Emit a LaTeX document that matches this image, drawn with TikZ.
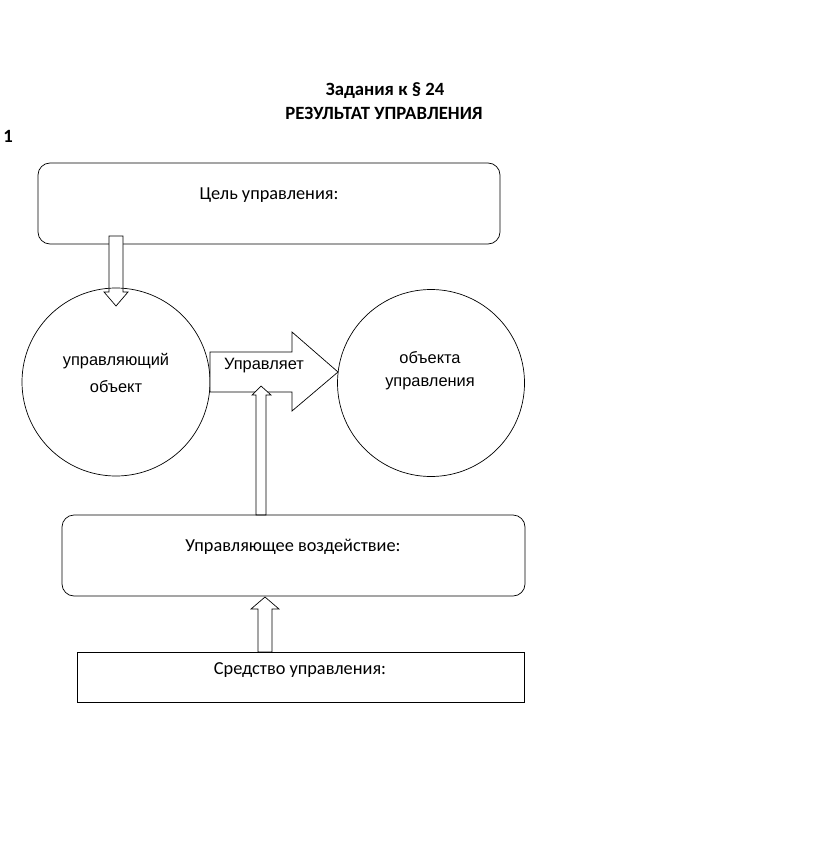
\documentclass[tikz,border=0pt]{standalone}
\usepackage{fontspec}
\setmainfont{Carlito}
\newfontfamily\arialf{Liberation Sans}
\begin{document}
\begin{tikzpicture}[x=1pt,y=-1pt,
  line width=0.7pt,
  boxtxt/.style={font=\fontsize{18.3}{22}\selectfont},
  titletxt/.style={font=\bfseries\fontsize{18.7}{22}\selectfont},
  circtxt/.style={font=\arialf\fontsize{16.4}{19}\selectfont},
  blockarrow/.style={draw=black,fill=white,line join=miter},
  rbox/.style={draw=black,rounded corners=12pt}]
\useasboundingbox (0,0) rectangle (823,853);
\node[titletxt] (t1) at (385,91) {Задания к § 24};
\node[titletxt] (t2) at (384,113) {РЕЗУЛЬТАТ УПРАВЛЕНИЯ};
\node[titletxt] (n1) at (8,136) {1};
% top box
\draw[rbox] (38,163) rectangle (500,244);
\node[boxtxt] (goal) at (269,195) {Цель управления:};
% down arrow
\draw[blockarrow] (109,236) -- (123,236) -- (123,292) -- (128,292) -- (116,306) -- (104,292) -- (109,292) -- cycle;
% circles
\node[draw,circle,minimum size=188pt,inner sep=0pt] (left) at (116,382) {};
\node[circtxt] (lt1) at (116,361) {управляющий};
\node[circtxt] (lt2) at (116,387) {объект};
\node[draw,circle,minimum size=187pt,inner sep=0pt] (right) at (431,383) {};
\node[circtxt] (rt1) at (430,358) {объекта};
\node[circtxt] (rt2) at (430,384) {управления};
% right block arrow
\draw[blockarrow] (210,352) -- (292,352) -- (292,332) -- (338,372) -- (292,411) -- (292,392) -- (210,392) -- cycle;
\node[circtxt] (ctrl) at (264,366) {Управляет};
% up arrow to middle
\draw[blockarrow] (256,515) -- (256,395) -- (252,395) -- (261,386) -- (271,395) -- (266,395) -- (266,515) -- cycle;
% middle box
\draw[rbox] (62,515) rectangle (525,596);
\node[boxtxt] (act) at (293,547) {Управляющее воздействие:};
% up arrow from bottom box
\draw[blockarrow] (258,652) -- (258,609) -- (251,609) -- (265,597) -- (279,609) -- (272,609) -- (272,652) -- cycle;
% bottom box
\draw (77,652) rectangle (524,702);
\node[boxtxt] (means) at (300,670) {Средство управления:};
\end{tikzpicture}
\end{document}
